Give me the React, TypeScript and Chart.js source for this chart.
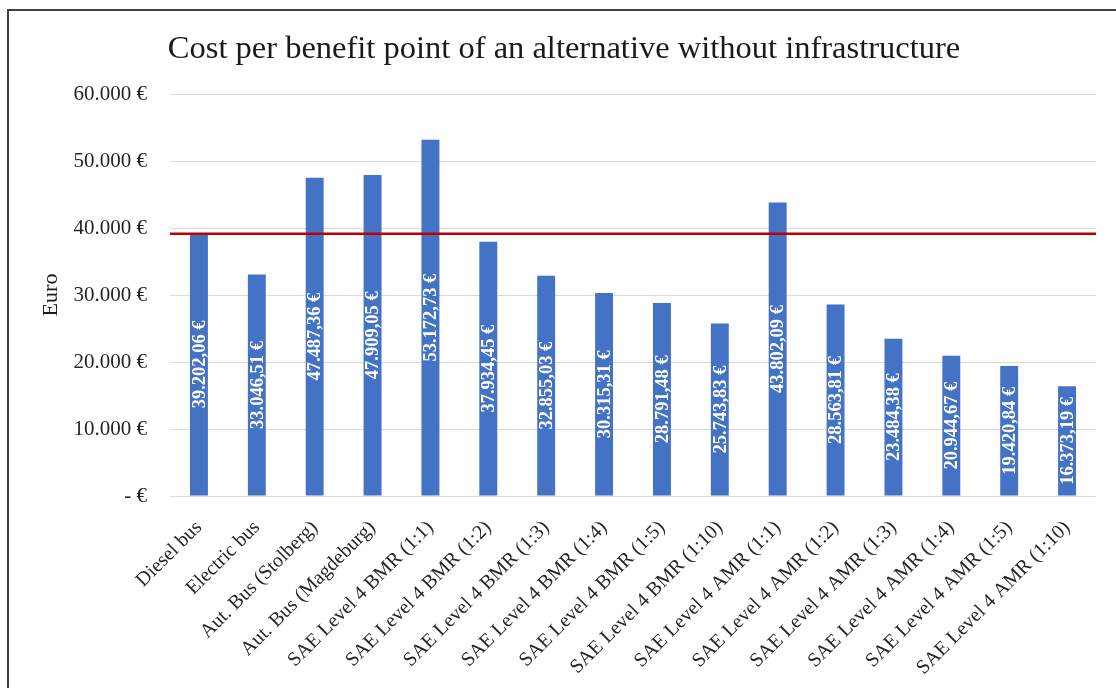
import React, { useEffect, useRef } from "react";
import { Chart, registerables } from "chart.js";

Chart.register(...registerables);

const categories = [
  "Diesel bus",
  "Electric bus",
  "Aut. Bus (Stolberg)",
  "Aut. Bus (Magdeburg)",
  "SAE Level 4 BMR (1:1)",
  "SAE Level 4 BMR (1:2)",
  "SAE Level 4 BMR (1:3)",
  "SAE Level 4 BMR (1:4)",
  "SAE Level 4 BMR (1:5)",
  "SAE Level 4 BMR (1:10)",
  "SAE Level 4 AMR (1:1)",
  "SAE Level 4 AMR (1:2)",
  "SAE Level 4 AMR (1:3)",
  "SAE Level 4 AMR (1:4)",
  "SAE Level 4 AMR (1:5)",
  "SAE Level 4 AMR (1:10)",
];

const costValues = [
  39202.06, 33046.51, 47487.36, 47909.05, 53172.73, 37934.45, 32855.03, 30315.31,
  28791.48, 25743.83, 43802.09, 28563.81, 23484.38, 20944.67, 19420.84, 16373.19,
];

const referenceValue = 39202.06;

const yTickValues = [0, 10000, 20000, 30000, 40000, 50000, 60000];
const yTickLabels = ["- €", "10.000 €", "20.000 €", "30.000 €", "40.000 €", "50.000 €", "60.000 €"];

const titleText = "Cost per benefit point of an alternative without infrastructure";
const yAxisTitle = "Euro";

const SERIF = "'Liberation Serif', 'Times New Roman', serif";

function formatEuro(v: number): string {
  const fixed = v.toFixed(2);
  const [intPart, dec] = fixed.split(".");
  const withDots = intPart.replace(/\B(?=(\d{3})+(?!\d))/g, ".");
  return withDots + "," + dec + " €";
}

const referenceLinePlugin = {
  id: "referenceLine",
  afterDatasetsDraw(chart: any) {
    const { ctx, chartArea, scales } = chart;
    const y = scales.y.getPixelForValue(referenceValue) + 0.5;
    ctx.save();
    ctx.strokeStyle = "#C00000";
    ctx.lineWidth = 2.5;
    ctx.beginPath();
    ctx.moveTo(chartArea.left, y);
    ctx.lineTo(chartArea.right, y);
    ctx.stroke();
    ctx.restore();
  },
};

const barLabelPlugin = {
  id: "barLabels",
  afterDraw(chart: any) {
    const { ctx } = chart;
    const meta = chart.getDatasetMeta(0);
    ctx.save();
    ctx.fillStyle = "#ffffff";
    ctx.font = "bold 18.5px " + SERIF;
    ctx.textAlign = "center";
    ctx.textBaseline = "middle";
    meta.data.forEach((bar: any, i: number) => {
      const props = bar.getProps(["x", "y", "base"], true);
      const cy = (props.y + props.base) / 2;
      ctx.save();
      ctx.translate(props.x, cy);
      ctx.rotate(-Math.PI / 2);
      ctx.fillText(formatEuro(costValues[i]), 0, 1);
      ctx.restore();
    });
    ctx.restore();
  },
};

export default function App() {
  const canvasRef = useRef<HTMLCanvasElement | null>(null);

  useEffect(() => {
    const canvas = canvasRef.current;
    if (!canvas) return;
    const chart = new Chart(canvas, {
      type: "bar",
      data: {
        labels: categories,
        datasets: [
          {
            label: "Cost per benefit point",
            data: costValues,
            backgroundColor: "#4472C4",
            borderWidth: 0,
            barPercentage: 0.62,
            categoryPercentage: 0.5,
          },
        ],
      },
      options: {
        responsive: false,
        animation: false,
        devicePixelRatio: 1,
        layout: { padding: { top: 0, right: 23, bottom: 0, left: 23 } },
        plugins: {
          legend: { display: false },
          tooltip: { enabled: false },
          title: {
            display: true,
            text: titleText,
            color: "#1a1a1a",
            font: { family: SERIF, size: 32.5, weight: "normal" },
            padding: { top: 19, bottom: 25 },
          },
        },
        scales: {
          x: {
            grid: { display: false },
            border: { display: false },
            ticks: {
              autoSkip: false,
              maxRotation: 45,
              minRotation: 45,
              color: "#262626",
              font: { family: SERIF, size: 20 },
              padding: 12,
            },
            afterFit(scale: any) {
              scale.height = 192;
            },
          },
          y: {
            min: 0,
            max: 60000,
            grid: { color: "#d9d9d9", lineWidth: 1, drawTicks: false },
            border: { display: false },
            ticks: {
              stepSize: 10000,
              color: "#262626",
              font: { family: SERIF, size: 21 },
              padding: 23,
              callback: (value: any) => {
                const idx = yTickValues.indexOf(Number(value));
                return idx >= 0 ? yTickLabels[idx] : "";
              },
            },
            title: {
              display: true,
              text: yAxisTitle,
              color: "#1a1a1a",
              font: { family: SERIF, size: 22 },
              padding: { top: 6, bottom: 0 },
            },
            afterFit(scale: any) {
              scale.width = 138;
            },
          },
        },
      },
      plugins: [referenceLinePlugin, barLabelPlugin],
    } as any);
    return () => chart.destroy();
  }, []);

  return (
    <div
      style={{
        position: "absolute",
        left: 0,
        top: 0,
        width: 1116,
        height: 688,
        overflow: "hidden",
        background: "#ffffff",
      }}
    >
      <div
        style={{
          position: "absolute",
          left: 7,
          top: 9,
          width: 1200,
          height: 800,
          border: "2px solid #404040",
          boxSizing: "border-box",
        }}
      />
      <canvas
        ref={canvasRef}
        width={1110}
        height={677}
        style={{ position: "absolute", left: 9, top: 11, display: "block" }}
      />
    </div>
  );
}
